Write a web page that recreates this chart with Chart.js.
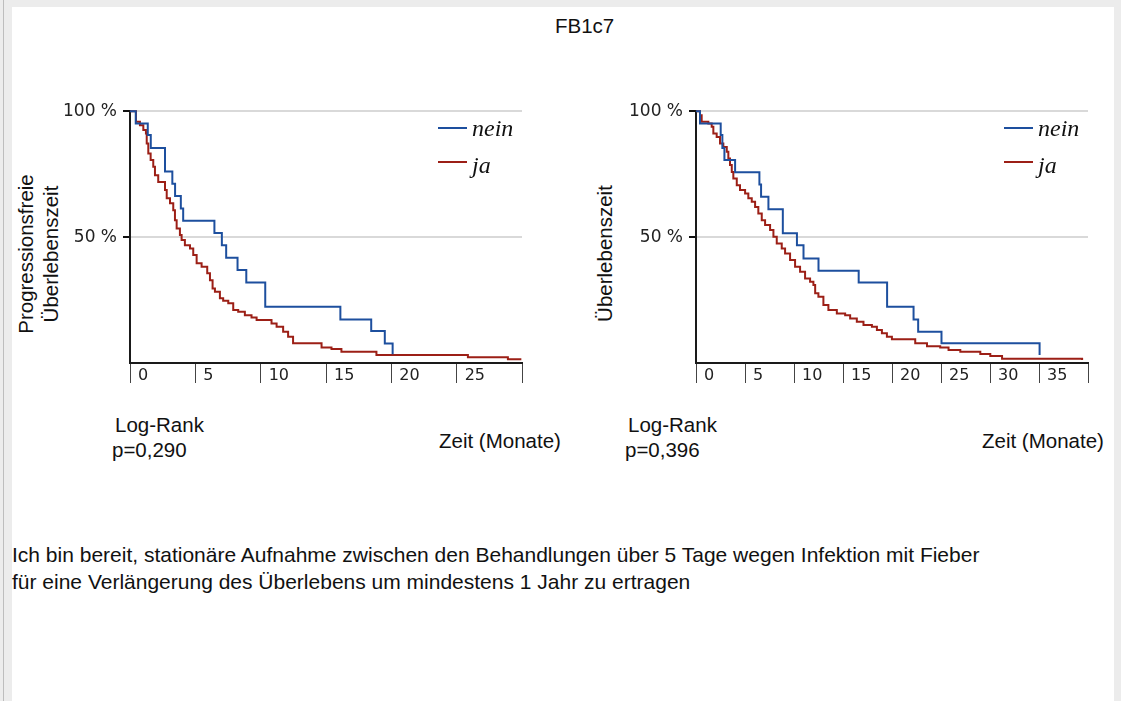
<!DOCTYPE html>
<html lang="de">
<head>
<meta charset="UTF-8">
<title>FB1c7</title>
<script src="https://cdn.jsdelivr.net/npm/chart.js@4.4.0/dist/chart.umd.min.js"></script>
<style>
  * { margin: 0; padding: 0; box-sizing: border-box; }
  html, body { width: 1121px; height: 701px; overflow: hidden; background: #ececec; }
  body { position: relative; font-family: "Liberation Sans", Arial, sans-serif; color: #111; }
  .edge { position: absolute; top: 0; bottom: 0; width: 1px; background: #bdbdbd; }
  .page { position: absolute; left: 12px; top: 7px; width: 1102px; height: 694px; background: #fff; }
  .txt { position: absolute; font-size: 20.5px; line-height: 24px; white-space: nowrap; }
  .ytitle { position: absolute; width: 300px; font-size: 20.5px; line-height: 25px; text-align: center; transform: rotate(-90deg); white-space: nowrap; }
  .lg-line { position: absolute; height: 2px; width: 29px; }
  .lg-txt { position: absolute; font-family: "Liberation Serif", "Times New Roman", serif; font-style: italic; font-size: 24px; line-height: 24px; }
  canvas { position: absolute; }
  .note { position: absolute; left: 12px; top: 541px; font-size: 21px; line-height: 27px; white-space: nowrap; }
</style>
</head>
<body>
  <div class="edge" style="left:3px"></div>
  <div class="page"></div>

  <div class="txt" style="left:555px; top:14px;">FB1c7</div>

  <!-- linke Grafik -->
  <div class="ytitle" style="left:-112px; top:229px; height:50px;">Progressionsfreie<br>Überlebenszeit</div>
  <canvas id="chartLeft" width="482" height="298" style="left:50px; top:95px;"></canvas>
  <div class="lg-line" style="left:438px; top:127px; background:#1d4f9e;"></div>
  <div class="lg-txt" style="left:472px; top:116px;">nein</div>
  <div class="lg-line" style="left:438px; top:161px; background:#9c1f16;"></div>
  <div class="lg-txt" style="left:472px; top:153px;">ja</div>
  <div class="txt" style="left:115px; top:413px;">Log-Rank</div>
  <div class="txt" style="left:112px; top:438px;">p=0,290</div>
  <div class="txt" style="left:439px; top:429px;">Zeit (Monate)</div>

  <!-- rechte Grafik -->
  <div class="ytitle" style="left:454px; top:241px; height:25px;">Überlebenszeit</div>
  <canvas id="chartRight" width="482" height="298" style="left:616px; top:95px;"></canvas>
  <div class="lg-line" style="left:1004px; top:127px; background:#1d4f9e;"></div>
  <div class="lg-txt" style="left:1038px; top:116px;">nein</div>
  <div class="lg-line" style="left:1004px; top:161px; background:#9c1f16;"></div>
  <div class="lg-txt" style="left:1038px; top:153px;">ja</div>
  <div class="txt" style="left:628px; top:413px;">Log-Rank</div>
  <div class="txt" style="left:625px; top:438px;">p=0,396</div>
  <div class="txt" style="left:982px; top:429px;">Zeit (Monate)</div>

  <div class="note">Ich bin bereit, stationäre Aufnahme zwischen den Behandlungen über 5 Tage wegen Infektion mit Fieber<br>für eine Verlängerung des Überlebens um mindestens 1 Jahr zu ertragen</div>

<script>
// Kaplan-Meier Kurven (Zeit in Monaten, Anteil in %)
const leftNeinTime = [0, 0.44, 1.36, 1.59, 2.68, 3.24, 3.45, 3.89, 4.07, 6.46, 7.03, 7.36, 8.23, 8.9, 10.35, 16.1, 18.46, 19.5, 20.1];
const leftNeinSurv = [100, 95.1, 90.5, 85.4, 76.1, 71.2, 66.3, 61.4, 56.5, 51.6, 46.8, 41.8, 36.9, 32, 22.3, 17.3, 12.7, 7.7, 3.5];

const leftJaTime = [0, 0.46, 0.76, 1.02, 1.22, 1.28, 1.40, 1.58, 1.78, 1.91, 2.16, 2.68, 2.81, 3.06, 3.31, 3.44, 3.57, 3.82, 3.95, 4.2,
  4.59, 4.84, 5.10, 5.48, 5.91, 6.12, 6.32, 6.5, 6.88, 7.13, 7.52, 7.9, 8.28, 8.79, 9.3, 9.69, 10.83, 11.22, 11.72, 12.1,
  12.48, 14.66, 15.42, 16.18, 18.86, 25.86, 28.92, 29.95];
const leftJaSurv = [100, 95.8, 94.4, 92.5, 91.1, 87.2, 83.2, 80.6, 77.9, 74.6, 71.9, 68.7, 65.4, 63.4, 60.7, 56.7, 53.4, 50.8, 48.8, 46.8,
  45.5, 42.9, 39.6, 38.2, 35.6, 32.9, 29.6, 28.3, 25.7, 24.7, 23.7, 21, 20.4, 19, 18.1, 17.1, 15.7, 14.4, 12.4, 10.4,
  7.8, 6.2, 5.6, 4.5, 3.2, 2.3, 1.5, 1.5];

const rightNeinTime = [0, 0.41, 2.52, 2.69, 2.9, 3.99, 6.47, 6.64, 7.39, 8.86, 10.3, 10.97, 12.5, 16.6, 19.5, 22.2, 22.67, 25.05, 35.06];
const rightNeinSurv = [100, 95.1, 90.5, 85.4, 80.6, 75.8, 70.9, 66, 61.1, 51.5, 46.8, 41.5, 36.6, 32, 22.3, 17.3, 12.4, 7.8, 3.2];

const rightJaTime = [0, 0.41, 0.58, 1.26, 1.6, 1.77, 2.11, 2.45, 2.79, 3.14, 3.3, 3.47, 3.65, 3.81, 4.16, 4.49, 5.01, 5.34, 5.69, 6.03,
  6.36, 6.71, 7.05, 7.56, 7.9, 8.24, 8.75, 9.09, 9.6, 10.11, 10.62, 11.13, 11.64, 11.98, 12.16, 12.49, 13, 13.51, 14.37, 15.22,
  15.73, 16.41, 17.09, 17.95, 18.46, 18.97, 19.48, 19.99, 22.37, 23.57, 24.92, 25.77, 26.97, 29.01, 30.03, 31.23, 39.4];
const rightJaSurv = [100, 98.4, 95.8, 95.1, 93.8, 91.1, 89.8, 87.2, 85.8, 83.9, 81.2, 78.6, 75.9, 73.3, 70.6, 68.7, 67.3, 65.4, 64, 62,
  59.4, 56.7, 54.8, 52.8, 50.1, 47.5, 45.5, 43.5, 40.9, 38.2, 36.2, 33.6, 32.3, 31, 27.7, 26.3, 23, 21, 19.7, 19,
  17.7, 16.4, 15.1, 14.4, 13.1, 11.8, 10.4, 9.4, 7.8, 6.7, 6.2, 5.2, 4.5, 3.6, 2.8, 1.7, 1.2];

const yTickValues = [50, 100];
const leftXMax = 30;
const rightXMax = 40;

const BLUE = '#1d4f9e';
const RED = '#9c1f16';

function toPoints(times, surv) {
  return times.map((t, i) => ({ x: t, y: surv[i] }));
}

function kmChart(id, xMax, nein, ja) {
  const ctx = document.getElementById(id).getContext('2d');
  return new Chart(ctx, {
    type: 'line',
    data: {
      datasets: [
        { label: 'nein', data: nein, borderColor: BLUE, borderWidth: 2, stepped: true, pointRadius: 0, fill: false, clip: 4 },
        { label: 'ja', data: ja, borderColor: RED, borderWidth: 2, stepped: true, pointRadius: 0, fill: false, clip: 4 }
      ]
    },
    options: {
      responsive: false,
      animation: false,
      devicePixelRatio: 1,
      layout: { padding: { top: 10, right: 10, left: 0, bottom: 0 } },
      plugins: { legend: { display: false }, tooltip: { enabled: false } },
      scales: {
        x: {
          type: 'linear', min: 0, max: xMax,
          ticks: {
            stepSize: 5, align: 'start', labelOffset: 8, padding: -17, maxRotation: 0, autoSkip: false,
            color: '#222', font: { family: 'DejaVu Sans', size: 16 },
            callback: v => (v === xMax ? '' : String(v))
          },
          grid: { drawOnChartArea: false, tickLength: 20, tickColor: '#444', tickWidth: 1 },
          border: { color: '#1a1a1a', width: 2 },
          afterFit: sc => { sc.height = 30; }
        },
        y: {
          min: 0, max: 100,
          afterBuildTicks: sc => { sc.ticks = yTickValues.map(v => ({ value: v })); },
          ticks: {
            padding: 6, color: '#222', font: { family: 'DejaVu Sans', size: 17 },
            callback: v => v + ' %'
          },
          grid: { color: '#d9d9d9', lineWidth: 2, tickLength: 7, tickColor: '#111', tickWidth: 2 },
          border: { color: '#1a1a1a', width: 2 },
          afterFit: sc => { sc.width = 80; }
        }
      }
    }
  });
}

kmChart('chartLeft', leftXMax, toPoints(leftNeinTime, leftNeinSurv), toPoints(leftJaTime, leftJaSurv));
kmChart('chartRight', rightXMax, toPoints(rightNeinTime, rightNeinSurv), toPoints(rightJaTime, rightJaSurv));
</script>
</body>
</html>
